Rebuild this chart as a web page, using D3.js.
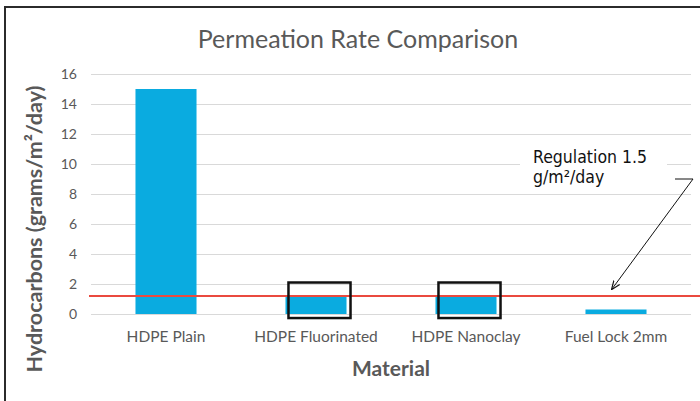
<!DOCTYPE html>
<html>
<head>
<meta charset="utf-8">
<script src="https://cdn.jsdelivr.net/npm/d3@7"></script>
<style>
  body { margin: 0; background: #fff; }
  svg { display: block; }
  svg text { font-family: Lato, "Open Sans", sans-serif; }
</style>
</head>
<body>
<div id="chart"></div>
<script>
// chart values
var categories = ["HDPE Plain", "HDPE Fluorinated", "HDPE Nanoclay", "Fuel Lock 2mm"];
var rates = [15, 1.15, 1.15, 0.3];
var yTicks = [0, 2, 4, 6, 8, 10, 12, 14, 16];
var regulationLevel = 1.2;
var highlighted = ["HDPE Fluorinated", "HDPE Nanoclay"];
var regulationText = ["Regulation 1.5", "g/m\u00b2/day"];

var svgWidth = 700;
var svgHeight = 401;

var margin = { top: 74, right: 9, bottom: 87, left: 91 };
var width = svgWidth - margin.left - margin.right;
var height = svgHeight - margin.top - margin.bottom;

var gray = "#595959";
var blue = "#0aabe0";

var svg = d3.select("#chart")
  .append("svg")
  .attr("width", svgWidth)
  .attr("height", svgHeight);

svg.append("rect")
  .attr("width", svgWidth)
  .attr("height", svgHeight)
  .attr("fill", "#fff");

// frame of the screenshot (top and left edges only)
svg.append("path")
  .attr("d", "M5,401 V7 H700")
  .attr("fill", "none")
  .attr("stroke", "#2b2b2b")
  .attr("stroke-width", 2);

var chartGroup = svg.append("g")
  .attr("transform", `translate(${margin.left}, ${margin.top})`);

// scales
var xBandScale = d3.scaleBand()
  .domain(categories)
  .range([0, width])
  .paddingInner(0.593)
  .paddingOuter(0.2965);

var yLinearScale = d3.scaleLinear()
  .domain([0, 16])
  .range([height, 0]);

// gridlines + tick labels from a left axis
var leftAxis = d3.axisLeft(yLinearScale)
  .tickValues(yTicks)
  .tickSize(-width)
  .tickPadding(14)
  .tickFormat(d3.format("d"));

var yAxisGroup = chartGroup.append("g").call(leftAxis);
yAxisGroup.select(".domain").remove();
yAxisGroup.selectAll(".tick line")
  .attr("stroke", "#d9d9d9")
  .attr("stroke-width", 1);
yAxisGroup.selectAll(".tick text")
  .attr("fill", gray)
  .style("font-size", "14px");

// category labels from a bottom axis
var bottomAxis = d3.axisBottom(xBandScale).tickSize(0).tickPadding(17);
var xAxisGroup = chartGroup.append("g")
  .attr("transform", `translate(0, ${height})`)
  .call(bottomAxis);
xAxisGroup.select(".domain").remove();
xAxisGroup.selectAll(".tick text")
  .attr("fill", gray)
  .style("font-size", "15.5px");

// bars
chartGroup.selectAll(".bar")
  .data(categories)
  .enter()
  .append("rect")
  .attr("class", "bar")
  .attr("x", d => xBandScale(d))
  .attr("y", (d, i) => yLinearScale(rates[i]))
  .attr("width", xBandScale.bandwidth())
  .attr("height", (d, i) => yLinearScale(0) - yLinearScale(rates[i]))
  .attr("fill", blue);

// regulation line runs to the right edge
chartGroup.append("line")
  .attr("x1", -2)
  .attr("x2", svgWidth - margin.left)
  .attr("y1", yLinearScale(regulationLevel))
  .attr("y2", yLinearScale(regulationLevel))
  .attr("stroke", "#ea4a3f")
  .attr("stroke-width", 2);

// black boxes around the highlighted bars
chartGroup.selectAll(".hl")
  .data(highlighted)
  .enter()
  .append("rect")
  .attr("class", "hl")
  .attr("x", d => xBandScale(d) + 3)
  .attr("y", yLinearScale(2.1))
  .attr("width", xBandScale.bandwidth() + 1)
  .attr("height", yLinearScale(-0.27) - yLinearScale(2.1))
  .attr("fill", "none")
  .attr("stroke", "#111")
  .attr("stroke-width", 2.5);

// callout text with a white backing
var calloutX = 533 - margin.left;
chartGroup.append("rect")
  .attr("x", calloutX - 13)
  .attr("y", yLinearScale(11.5))
  .attr("width", 147)
  .attr("height", 46)
  .attr("fill", "#fff");

chartGroup.selectAll(".callout")
  .data(regulationText)
  .enter()
  .append("text")
  .attr("class", "callout")
  .attr("x", calloutX)
  .attr("y", (d, i) => yLinearScale(10.05) + i * 20)
  .attr("fill", "#111")
  .style("font-family", "'DejaVu Sans Condensed', 'DejaVu Sans', sans-serif")
  .style("font-size", "17.5px")
  .text(d => d);

// arrow from callout to the regulation line
var defs = svg.append("defs");
defs.append("marker")
  .attr("id", "arrowhead")
  .attr("viewBox", "0 0 10 10")
  .attr("refX", 9)
  .attr("refY", 5)
  .attr("markerWidth", 9)
  .attr("markerHeight", 9)
  .attr("orient", "auto")
  .append("path")
  .attr("d", "M0,1 L10,5 L0,9")
  .attr("fill", "none")
  .attr("stroke", "#111")
  .attr("stroke-width", 1.3);

var arrowTipX = xBandScale("Fuel Lock 2mm") + xBandScale.bandwidth() / 2 - 4 ;
chartGroup.append("path")
  .attr("d", `M${675 - margin.left},${yLinearScale(9)} H${693 - margin.left} L${arrowTipX},${yLinearScale(regulationLevel) - 7}`)
  .attr("fill", "none")
  .attr("stroke", "#111")
  .attr("stroke-width", 1)
  .attr("marker-end", "url(#arrowhead)");

// title
svg.append("text")
  .attr("x", 358)
  .attr("y", 48)
  .attr("text-anchor", "middle")
  .attr("fill", gray)
  .style("font-size", "25px")
  .style("font-weight", 400)
  .text("Permeation Rate Comparison");

// axis titles
svg.append("text")
  .attr("transform", "rotate(-90)")
  .attr("x", -229)
  .attr("y", 42)
  .attr("text-anchor", "middle")
  .attr("fill", gray)
  .style("font-size", "21.5px")
  .style("font-weight", "bold")
  .text("Hydrocarbons (grams/m\u00b2/day)");

svg.append("text")
  .attr("x", 391)
  .attr("y", 376)
  .attr("text-anchor", "middle")
  .attr("fill", gray)
  .style("font-size", "21px")
  .style("font-weight", "bold")
  .text("Material");
</script>
</body>
</html>
